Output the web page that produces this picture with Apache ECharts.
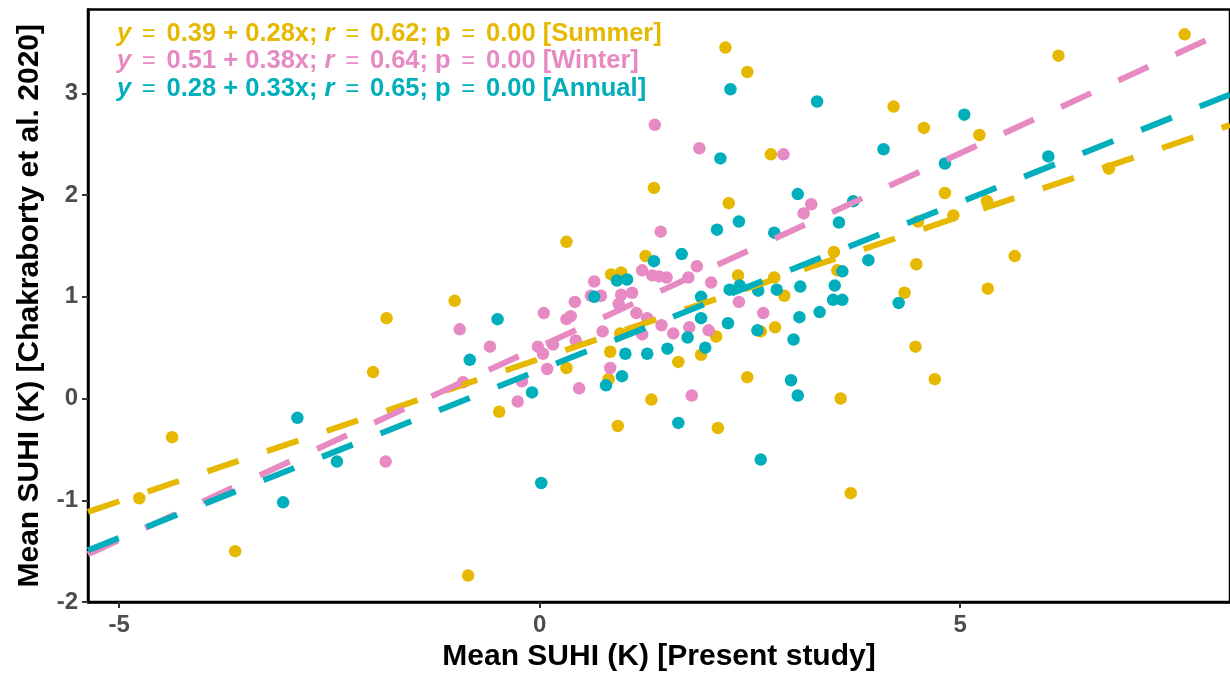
<!DOCTYPE html>
<html>
<head>
<meta charset="utf-8">
<script src="https://cdn.jsdelivr.net/npm/echarts@6/dist/echarts.min.js"></script>
<style>
  html, body { margin: 0; padding: 0; background: #ffffff; }
  #chart { width: 1230px; height: 677px; }
</style>
</head>
<body>
<div id="chart"></div>
<script>
// ---- data ----
const xTicks = [-5, 0, 5];
const yTicks = [-2, -1, 0, 1, 2, 3];

const summer = [
  [7.67, 3.58], [2.21, 3.45], [2.47, 3.21], [6.17, 3.37], [4.21, 2.87], [4.57, 2.66],
  [5.23, 2.59], [2.75, 2.40], [1.36, 2.07], [2.25, 1.92], [4.82, 2.02], [6.77, 2.26],
  [4.92, 1.80], [5.32, 1.94], [0.32, 1.54], [4.50, 1.74], [5.65, 1.40], [4.48, 1.32],
  [1.26, 1.40], [3.50, 1.44], [3.54, 1.26], [0.85, 1.22], [0.97, 1.24], [2.36, 1.21],
  [2.79, 1.19], [2.91, 1.01], [-1.01, 0.96], [-1.82, 0.79], [4.34, 1.04], [5.33, 1.08],
  [-1.98, 0.26], [0.32, 0.30], [0.84, 0.46], [0.82, 0.19], [1.65, 0.36], [1.92, 0.43],
  [2.10, 0.61], [2.63, 0.66], [2.80, 0.70], [4.47, 0.51], [4.70, 0.19], [3.58, 0.00],
  [3.70, -0.93], [1.33, -0.01], [-0.48, -0.13], [0.93, -0.27], [2.12, -0.29], [2.47, 0.21],
  [-0.85, -1.74], [-4.37, -0.38], [-4.76, -0.98], [-3.62, -1.50], [0.96, 0.64]
];

const winter = [
  [1.37, 2.69], [1.90, 2.46], [2.90, 2.40], [3.23, 1.91], [3.14, 1.82], [1.44, 1.64],
  [0.65, 1.15], [0.61, 1.01], [0.73, 1.01], [0.42, 0.95], [0.05, 0.84], [0.37, 0.81],
  [0.32, 0.78], [-0.95, 0.68], [-0.59, 0.51], [-0.02, 0.51], [0.16, 0.53], [0.43, 0.57],
  [0.75, 0.66], [1.22, 1.26], [1.34, 1.21], [1.42, 1.20], [1.51, 1.19], [1.87, 1.30],
  [1.77, 1.19], [2.04, 1.14], [2.37, 0.95], [2.66, 0.84], [0.97, 1.02], [1.10, 1.04],
  [0.94, 0.93], [1.15, 0.84], [1.28, 0.79], [1.45, 0.72], [1.59, 0.64], [1.78, 0.70],
  [2.01, 0.67], [1.22, 0.63], [-0.91, 0.16], [-0.21, 0.17], [-0.26, -0.03], [0.09, 0.29],
  [0.04, 0.44], [0.47, 0.10], [0.84, 0.30], [1.81, 0.03], [-1.83, -0.62]
];

const annual = [
  [2.27, 3.04], [3.30, 2.92], [5.05, 2.79], [4.09, 2.45], [6.05, 2.38], [4.82, 2.31],
  [2.15, 2.36], [3.07, 2.01], [2.11, 1.66], [2.37, 1.74], [2.79, 1.63], [1.69, 1.42],
  [1.36, 1.35], [0.92, 1.16], [1.04, 1.17], [0.65, 1.00], [-0.50, 0.78], [1.92, 1.00],
  [1.92, 0.79], [2.26, 1.07], [2.38, 1.11], [2.60, 1.06], [2.82, 1.07], [3.10, 1.10],
  [3.51, 1.11], [3.60, 1.25], [3.49, 0.97], [3.60, 0.97], [3.09, 0.80], [3.33, 0.85],
  [2.24, 0.74], [2.59, 0.67], [1.76, 0.60], [3.02, 0.58], [1.52, 0.49], [1.97, 0.50],
  [3.73, 1.94], [3.56, 1.73], [3.91, 1.36], [4.27, 0.94], [2.99, 0.18], [3.07, 0.03],
  [1.65, -0.24], [2.63, -0.60], [-0.83, 0.38], [-0.09, 0.06], [0.79, 0.13], [0.98, 0.22],
  [1.02, 0.44], [1.28, 0.44], [0.02, -0.83], [-2.88, -0.19], [-2.41, -0.62], [-3.05, -1.02]
];

// fitted lines as printed on the chart: [intercept, slope]
const fitSummer = [0.39, 0.28];
const fitWinter = [0.51, 0.38];
const fitAnnual = [0.28, 0.33];

const labels = [
  ['0.39 + 0.28x; ', '0.62; p', '0.00 [Summer]'],
  ['0.51 + 0.38x; ', '0.64; p', '0.00 [Winter]'],
  ['0.28 + 0.33x; ', '0.65; p', '0.00 [Annual]']
];

// ---- styling ----
const C_SUM = '#E7B800', C_WIN = '#E78AC3', C_ANN = '#00AFBB';
const FONT = '"Liberation Sans", Arial, Helvetica, sans-serif';
const X_MIN = -5.37, X_MAX = 8.21, Y_MIN = -2.0, Y_MAX = 3.824;

function fitLine(f) {
  return [[X_MIN, f[0] + f[1] * X_MIN], [X_MAX, f[0] + f[1] * X_MAX]];
}

function scatter(name, data, color) {
  return {
    name, type: 'scatter', data, symbol: 'circle', symbolSize: 12.5,
    itemStyle: { color, opacity: 1 }, silent: true, z: 2
  };
}
function dashed(name, f, color, z) {
  return {
    name, type: 'line', data: fitLine(f), showSymbol: false, symbol: 'none',
    lineStyle: { color, width: 6, type: [33, 30], cap: 'butt' },
    silent: true, z, animation: false
  };
}

function annot(i, color, top) {
  const t = labels[i];
  return {
    type: 'text', left: 117, top,
    style: {
      text: '{it|y}{eq| = }{b|' + t[0] + '}{it|r}{eq| = }{b|' + t[1] + '}{eq| = }{b|' + t[2] + '}',
      rich: {
        it: { fontFamily: FONT, fontSize: 25.5, fontWeight: 'bold', fontStyle: 'italic', fill: color },
        eq: { fontFamily: FONT, fontSize: 24, fontWeight: 'normal', fill: color, padding: [0, 4] },
        b: { fontFamily: FONT, fontSize: 25.5, fontWeight: 'bold', fill: color }
      }
    },
    z: 10
  };
}

const chart = echarts.init(document.getElementById('chart'), null, { renderer: 'canvas' });
chart.setOption({
  animation: false,
  backgroundColor: '#ffffff',
  grid: {
    left: 88, top: 9.5, right: -3, height: 593.5,
    show: true, borderColor: '#000000', borderWidth: 2.5, backgroundColor: 'transparent'
  },
  xAxis: {
    type: 'value', min: X_MIN, max: X_MAX,
    name: 'Mean SUHI (K) [Present study]', nameLocation: 'middle', nameGap: 40,
    nameTextStyle: { fontFamily: FONT, fontSize: 30, fontWeight: 'bold', color: '#000000' },
    axisLine: { show: true, onZero: false, lineStyle: { color: '#000000', width: 2.5 } },
    axisTick: { show: true, length: 6, customValues: xTicks, lineStyle: { color: '#333333', width: 2 } },
    axisLabel: { customValues: xTicks, margin: 11, fontFamily: FONT, fontSize: 24, fontWeight: 'bold', color: '#4D4D4D' },
    splitLine: { show: false }
  },
  yAxis: {
    type: 'value', min: Y_MIN, max: Y_MAX,
    name: 'Mean SUHI (K) [Chakraborty et al. 2020]', nameLocation: 'middle', nameGap: 43,
    nameTextStyle: { fontFamily: FONT, fontSize: 30, fontWeight: 'bold', color: '#000000' },
    axisLine: { show: true, onZero: false, lineStyle: { color: '#000000', width: 2.5 } },
    axisTick: { show: true, length: 6, customValues: yTicks, lineStyle: { color: '#333333', width: 2 } },
    axisLabel: { customValues: yTicks, margin: 10, fontFamily: FONT, fontSize: 24, fontWeight: 'bold', color: '#4D4D4D' },
    splitLine: { show: false }
  },
  series: [
    scatter('Summer', summer, C_SUM),
    scatter('Winter', winter, C_WIN),
    scatter('Annual', annual, C_ANN),
    dashed('Summer fit', fitSummer, C_SUM, 3),
    dashed('Winter fit', fitWinter, C_WIN, 4),
    dashed('Annual fit', fitAnnual, C_ANN, 5)
  ],
  graphic: [
    annot(0, C_SUM, 21),
    annot(1, C_WIN, 48),
    annot(2, C_ANN, 76)
  ]
});
</script>
</body>
</html>
